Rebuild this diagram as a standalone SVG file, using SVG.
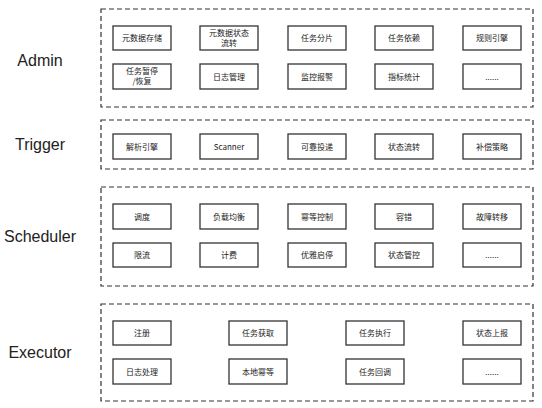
<svg xmlns="http://www.w3.org/2000/svg" width="542" height="408" viewBox="0 0 542 408">
<style>
.layer{fill:none;stroke:#333;stroke-width:1.2;stroke-dasharray:5 3}
.box{fill:#fff;stroke:#333;stroke-width:1.3}
.lbl{font-family:"Liberation Sans","Noto Sans CJK SC",sans-serif;font-size:16px;fill:#222;text-anchor:middle}
.t{font-family:"Noto Sans CJK SC","Liberation Sans",sans-serif;font-size:8px;fill:#222;text-anchor:middle}
</style>
<rect width="542" height="408" fill="#fff"/>
<g id="admin">
<rect class="layer" x="101" y="9" width="432" height="98"/>
<text class="lbl" x="40" y="66">Admin</text>
<g id="a1"><rect class="box" x="113" y="26" width="58" height="24"/><text class="t" x="142" y="41">元数据存储</text></g>
<g id="a2"><rect class="box" x="200" y="26" width="58" height="24"/><text class="t" x="229" y="36">元数据状态</text><text class="t" x="229" y="46">流转</text></g>
<g id="a3"><rect class="box" x="288" y="26" width="58" height="24"/><text class="t" x="317" y="41">任务分片</text></g>
<g id="a4"><rect class="box" x="375" y="26" width="58" height="24"/><text class="t" x="404" y="41">任务依赖</text></g>
<g id="a5"><rect class="box" x="463" y="26" width="58" height="24"/><text class="t" x="492" y="41">规则引擎</text></g>
<g id="a6"><rect class="box" x="113" y="64" width="58" height="25"/><text class="t" x="142" y="74">任务暂停</text><text class="t" x="142" y="84">/恢复</text></g>
<g id="a7"><rect class="box" x="200" y="64" width="58" height="25"/><text class="t" x="229" y="79.5">日志管理</text></g>
<g id="a8"><rect class="box" x="288" y="64" width="58" height="25"/><text class="t" x="317" y="79.5">监控报警</text></g>
<g id="a9"><rect class="box" x="375" y="64" width="58" height="25"/><text class="t" x="404" y="79.5">指标统计</text></g>
<g id="a10"><rect class="box" x="463" y="64" width="58" height="25"/><text class="t" x="492" y="79.5">......</text></g>
</g>
<g id="trigger">
<rect class="layer" x="101" y="120" width="432" height="49"/>
<text class="lbl" x="40" y="150">Trigger</text>
<g id="t1"><rect class="box" x="113" y="134" width="58" height="25"/><text class="t" x="142" y="149.5">解析引擎</text></g>
<g id="t2"><rect class="box" x="200" y="134" width="58" height="25"/><text class="t" x="229" y="149.5">Scanner</text></g>
<g id="t3"><rect class="box" x="288" y="134" width="58" height="25"/><text class="t" x="317" y="149.5">可靠投递</text></g>
<g id="t4"><rect class="box" x="375" y="134" width="58" height="25"/><text class="t" x="404" y="149.5">状态流转</text></g>
<g id="t5"><rect class="box" x="463" y="134" width="58" height="25"/><text class="t" x="492" y="149.5">补偿策略</text></g>
</g>
<g id="scheduler">
<rect class="layer" x="101" y="187" width="432" height="99"/>
<text class="lbl" x="40" y="242">Scheduler</text>
<g id="s1"><rect class="box" x="113" y="204" width="58" height="25"/><text class="t" x="142" y="219.5">调度</text></g>
<g id="s2"><rect class="box" x="200" y="204" width="58" height="25"/><text class="t" x="229" y="219.5">负载均衡</text></g>
<g id="s3"><rect class="box" x="288" y="204" width="58" height="25"/><text class="t" x="317" y="219.5">幂等控制</text></g>
<g id="s4"><rect class="box" x="375" y="204" width="58" height="25"/><text class="t" x="404" y="219.5">容错</text></g>
<g id="s5"><rect class="box" x="463" y="204" width="58" height="25"/><text class="t" x="492" y="219.5">故障转移</text></g>
<g id="s6"><rect class="box" x="113" y="243" width="58" height="24"/><text class="t" x="142" y="258">限流</text></g>
<g id="s7"><rect class="box" x="200" y="243" width="58" height="24"/><text class="t" x="229" y="258">计费</text></g>
<g id="s8"><rect class="box" x="288" y="243" width="58" height="24"/><text class="t" x="317" y="258">优雅启停</text></g>
<g id="s9"><rect class="box" x="375" y="243" width="58" height="24"/><text class="t" x="404" y="258">状态管控</text></g>
<g id="s10"><rect class="box" x="463" y="243" width="58" height="24"/><text class="t" x="492" y="258">......</text></g>
</g>
<g id="executor">
<rect class="layer" x="101" y="304" width="432" height="97"/>
<text class="lbl" x="40" y="358">Executor</text>
<g id="e1"><rect class="box" x="113" y="321" width="58" height="24"/><text class="t" x="142" y="336">注册</text></g>
<g id="e2"><rect class="box" x="229" y="321" width="58" height="24"/><text class="t" x="258" y="336">任务获取</text></g>
<g id="e3"><rect class="box" x="346" y="321" width="58" height="24"/><text class="t" x="375" y="336">任务执行</text></g>
<g id="e4"><rect class="box" x="463" y="321" width="58" height="24"/><text class="t" x="492" y="336">状态上报</text></g>
<g id="e5"><rect class="box" x="113" y="359" width="58" height="25"/><text class="t" x="142" y="374.5">日志处理</text></g>
<g id="e6"><rect class="box" x="229" y="359" width="58" height="25"/><text class="t" x="258" y="374.5">本地幂等</text></g>
<g id="e7"><rect class="box" x="346" y="359" width="58" height="25"/><text class="t" x="375" y="374.5">任务回调</text></g>
<g id="e8"><rect class="box" x="463" y="359" width="58" height="25"/><text class="t" x="492" y="374.5">......</text></g>
</g>
<g id="connectors"></g>
</svg>
